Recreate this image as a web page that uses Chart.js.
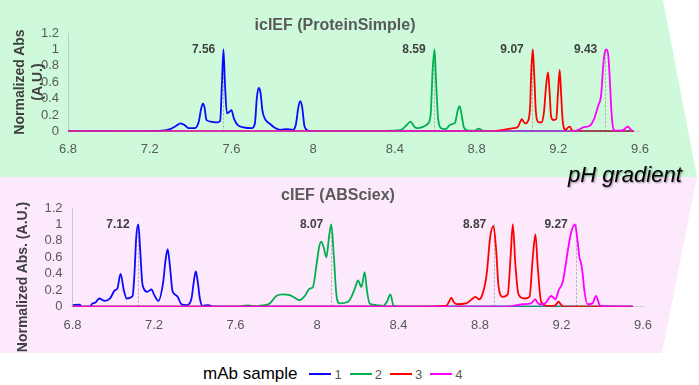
<!DOCTYPE html>
<html><head><meta charset="utf-8">
<script src="https://cdn.jsdelivr.net/npm/chart.js@4"></script>
<style>
body{margin:0;width:699px;height:385px;background:#fff;overflow:hidden;font-family:"Liberation Sans",Arial,sans-serif;position:relative}
.abs{position:absolute}
.title{position:absolute;transform:translate(-50%,-50%);white-space:nowrap;font-weight:bold;font-size:16px;color:#595959}
.ytitle{position:absolute;transform:translate(-50%,-50%) rotate(-90deg);white-space:nowrap;font-weight:bold;font-size:14px;color:#404040;text-align:center;line-height:18px}
.ph{position:absolute;left:568px;top:162px;font-size:22px;font-style:italic;color:#000;text-shadow:1px 1px 2px rgba(0,0,0,0.45);white-space:nowrap}
.legend{position:absolute;left:203px;top:364px;display:flex;align-items:center;white-space:nowrap}
.legend .lab{font-size:17px;color:#000;margin-right:12px}
.legend .sw{display:inline-block;width:22px;height:0;border-top:2px solid;margin-right:3px}
.legend .num{font-size:13px;color:#595959;margin-right:8px}
</style></head><body>
<svg class="abs" style="left:0;top:0" width="699" height="385">
<polygon points="0,0 663,0 697,177 0,177" fill="#cefadb"/>
<polygon points="0,177 697,177 662,353 0,353" fill="#fce9fc"/>
</svg>
<canvas id="topChart" class="abs" style="left:0;top:0" width="699" height="170"></canvas>
<canvas id="botChart" class="abs" style="left:0;top:180px" width="699" height="170"></canvas>
<div class="title" style="left:335px;top:25px">icIEF (ProteinSimple)</div>
<div class="title" style="left:338px;top:195px">cIEF (ABSciex)</div>
<div class="ytitle" style="left:28px;top:82px">Normalized Abs<br>(A.U.)</div>
<div class="ytitle" style="left:22px;top:277px">Normalized Abs. (A.U.)</div>
<div class="ph">pH gradient</div>
<div class="legend" id="legend"><span class="lab">mAb sample</span></div>
<script>
// ---- data ----
const sampleNames = ['1', '2', '3', '4'];
const sampleColors = ['#0a0aff', '#00b050', '#ff0000', '#ff00ff'];
const xTicks = [6.8, 7.2, 7.6, 8, 8.4, 8.8, 9.2, 9.6];
const yTicks = [0, 0.2, 0.4, 0.6, 0.8, 1, 1.2];

// icIEF (ProteinSimple)
const icPH1 = [6.8, 6.9, 7.0, 7.1, 7.2, 7.26, 7.3, 7.33, 7.35, 7.37, 7.39, 7.42, 7.44, 7.452, 7.46, 7.468, 7.478, 7.5, 7.53, 7.545, 7.553, 7.561, 7.568, 7.578, 7.59, 7.60, 7.612, 7.63, 7.66, 7.7, 7.715, 7.724, 7.733, 7.742, 7.752, 7.765, 7.785, 7.81, 7.84, 7.87, 7.9, 7.915, 7.928, 7.937, 7.946, 7.958, 7.975, 8.0, 8.2, 8.6, 9.0, 9.57];
const icAbs1 = [0, 0.005, 0.005, 0, 0.005, 0.01, 0.03, 0.07, 0.1, 0.08, 0.04, 0.04, 0.12, 0.28, 0.34, 0.3, 0.14, 0.12, 0.11, 0.13, 0.55, 1.0, 0.6, 0.22, 0.24, 0.26, 0.16, 0.08, 0.05, 0.04, 0.1, 0.4, 0.53, 0.48, 0.25, 0.15, 0.1, 0.05, 0.02, 0.03, 0.02, 0.08, 0.3, 0.37, 0.3, 0.06, 0.01, 0, 0.005, 0, 0, 0];
const icPH2 = [6.8, 8.0, 8.2, 8.3, 8.38, 8.43, 8.455, 8.476, 8.495, 8.51, 8.54, 8.56, 8.575, 8.585, 8.594, 8.602, 8.612, 8.627, 8.65, 8.665, 8.68, 8.695, 8.707, 8.717, 8.727, 8.738, 8.76, 8.79, 8.81, 8.83, 8.86, 9.0, 9.57];
const icAbs2 = [0, 0, 0.005, 0.005, 0.01, 0.02, 0.07, 0.12, 0.06, 0.04, 0.06, 0.09, 0.2, 0.75, 1.0, 0.6, 0.15, 0.04, 0.03, 0.07, 0.09, 0.11, 0.25, 0.31, 0.2, 0.05, 0.01, 0.01, 0.035, 0.01, 0, 0, 0];
const icPH3 = [6.8, 8.6, 8.86, 8.93, 8.98, 9.003, 9.014, 9.022, 9.03, 9.039, 9.052, 9.062, 9.068, 9.075, 9.082, 9.09, 9.1, 9.117, 9.13, 9.14, 9.15, 9.157, 9.165, 9.177, 9.19, 9.198, 9.207, 9.214, 9.222, 9.236, 9.248, 9.256, 9.266, 9.28, 9.4, 9.57];
const icAbs3 = [0, 0, 0, 0.02, 0.04, 0.06, 0.12, 0.15, 0.12, 0.1, 0.13, 0.3, 0.75, 1.0, 0.7, 0.25, 0.12, 0.11, 0.24, 0.55, 0.72, 0.5, 0.18, 0.14, 0.15, 0.45, 0.75, 0.45, 0.12, 0.02, 0.05, 0.06, 0.02, 0, 0, 0];
const icPH4 = [6.8, 9.0, 9.26, 9.3, 9.321, 9.354, 9.375, 9.395, 9.41, 9.42, 9.428, 9.436, 9.445, 9.453, 9.46, 9.468, 9.478, 9.5, 9.52, 9.532, 9.542, 9.552, 9.565];
const icAbs4 = [0, 0, 0, 0.02, 0.05, 0.07, 0.15, 0.31, 0.45, 0.8, 0.97, 1.0, 0.92, 0.6, 0.25, 0.05, 0.01, 0.01, 0.02, 0.05, 0.06, 0.03, 0];
const icPeaks = [7.56, 8.59, 9.07, 9.43];

// cIEF (ABSciex)
const cPH1 = [6.8, 6.837, 6.842, 6.888, 6.894, 6.912, 6.931, 6.959, 6.984, 7.008, 7.02, 7.036, 7.052, 7.066, 7.095, 7.104, 7.113, 7.123, 7.132, 7.142, 7.15, 7.167, 7.188, 7.2, 7.221, 7.245, 7.256, 7.267, 7.278, 7.29, 7.302, 7.316, 7.335, 7.36, 7.384, 7.395, 7.405, 7.415, 7.425, 7.438, 7.466, 7.49, 8.0, 9.0, 9.55];
const cAbs1 = [0.02, 0.025, 0, 0, 0.03, 0.05, 0.1, 0.07, 0.1, 0.2, 0.22, 0.4, 0.2, 0.1, 0.13, 0.4, 0.85, 1.0, 0.7, 0.3, 0.22, 0.18, 0.21, 0.15, 0.07, 0.3, 0.55, 0.7, 0.5, 0.2, 0.15, 0.12, 0.03, 0.02, 0.1, 0.3, 0.43, 0.3, 0.1, 0.01, 0.02, 0, 0, 0, 0];
const cPH2 = [6.8, 7.6, 7.66, 7.7, 7.734, 7.768, 7.8, 7.833, 7.866, 7.89, 7.915, 7.94, 7.964, 7.98, 7.997, 8.01, 8.021, 8.033, 8.046, 8.059, 8.07, 8.083, 8.095, 8.111, 8.152, 8.169, 8.19, 8.201, 8.218, 8.234, 8.245, 8.258, 8.291, 8.324, 8.343, 8.36, 8.376, 8.4, 9.0, 9.55];
const cAbs2 = [0, 0, 0.015, 0.005, 0.015, 0.04, 0.13, 0.15, 0.14, 0.11, 0.08, 0.13, 0.22, 0.24, 0.5, 0.72, 0.79, 0.72, 0.6, 0.85, 1.0, 0.6, 0.15, 0.04, 0.06, 0.12, 0.25, 0.32, 0.24, 0.42, 0.2, 0.04, 0.02, 0.01, 0.06, 0.15, 0.01, 0, 0, 0];
const cPH3 = [6.8, 8.5, 8.634, 8.648, 8.659, 8.67, 8.685, 8.732, 8.755, 8.778, 8.795, 8.812, 8.833, 8.85, 8.866, 8.879, 8.891, 8.912, 8.936, 8.95, 8.961, 8.974, 8.989, 9.018, 9.043, 9.059, 9.072, 9.083, 9.1, 9.132, 9.165, 9.178, 9.186, 9.196, 9.21, 9.3, 9.55];
const cAbs3 = [0, 0, 0.01, 0.06, 0.11, 0.06, 0.03, 0.04, 0.08, 0.12, 0.09, 0.15, 0.4, 0.85, 0.98, 0.7, 0.25, 0.12, 0.15, 0.6, 1.0, 0.5, 0.15, 0.1, 0.12, 0.6, 0.88, 0.5, 0.06, 0.01, 0.01, 0.04, 0.06, 0.03, 0, 0, 0];
const cPH4 = [6.8, 8.9, 8.93, 9.01, 9.05, 9.062, 9.072, 9.082, 9.095, 9.124, 9.14, 9.149, 9.16, 9.17, 9.186, 9.206, 9.22, 9.232, 9.247, 9.266, 9.279, 9.288, 9.296, 9.304, 9.312, 9.328, 9.353, 9.362, 9.37, 9.378, 9.39, 9.45, 9.55];
const cAbs4 = [0, 0, 0, 0.03, 0.04, 0.07, 0.09, 0.05, 0.03, 0.05, 0.11, 0.13, 0.11, 0.09, 0.2, 0.3, 0.5, 0.7, 0.9, 1.0, 0.8, 0.6, 0.53, 0.4, 0.2, 0.03, 0.04, 0.1, 0.13, 0.08, 0.01, 0.005, 0];
const cPeaks = [7.12, 8.07, 8.87, 9.27];

// ---- rendering ----
const FONT = '"Liberation Sans", Arial, sans-serif';
const fmt = v => String(parseFloat(Number(v).toFixed(2)));

const peakPlugin = {
  id: 'peaks',
  beforeDatasetsDraw(chart, args, opts) {
    const {ctx, scales: {x, y}} = chart;
    ctx.save();
    ctx.strokeStyle = '#a6a6a6'; ctx.lineWidth = 1; ctx.setLineDash([2, 2]);
    opts.values.forEach(p => {
      const px = Math.round(x.getPixelForValue(p)) + 0.5;
      ctx.beginPath(); ctx.moveTo(px, y.getPixelForValue(1)); ctx.lineTo(px, y.getPixelForValue(0)); ctx.stroke();
    });
    ctx.restore();
  },
  afterDatasetsDraw(chart, args, opts) {
    const {ctx, scales: {x, y}} = chart;
    ctx.save();
    ctx.font = 'bold 12px ' + FONT; ctx.fillStyle = '#404040';
    ctx.textAlign = 'right'; ctx.textBaseline = 'middle';
    opts.values.forEach(p => ctx.fillText(p.toFixed(2), x.getPixelForValue(p) - 8, y.getPixelForValue(1)));
    ctx.restore();
  }
};

function makeChart(id, phs, abss, peaks, pad, xPad, yPad) {
  const datasets = phs.map((ph, i) => ({
    label: sampleNames[i],
    data: ph.map((v, j) => ({x: v, y: abss[i][j]})),
    borderColor: sampleColors[i], borderWidth: 1.8, pointRadius: 0,
    cubicInterpolationMode: 'monotone', fill: false,
    order: phs.length - 1 - i
  }));
  return new Chart(document.getElementById(id), {
    type: 'line',
    data: {datasets},
    plugins: [peakPlugin],
    options: {
      responsive: false, animation: false, devicePixelRatio: 1,
      layout: {padding: pad},
      plugins: {legend: {display: false}, tooltip: {enabled: false}, peaks: {values: peaks}},
      scales: {
        x: {type: 'linear', min: xTicks[0], max: xTicks[xTicks.length - 1],
            afterBuildTicks: s => { s.ticks = xTicks.map(v => ({value: v})); },
            afterFit: s => { s.height = 28; },
            grid: {display: false, drawTicks: false},
            border: {display: true, color: '#d0d0d0'},
            ticks: {padding: xPad, color: '#595959', font: {family: FONT, size: 13}, callback: v => fmt(v), maxRotation: 0, autoSkip: false}},
        y: {min: yTicks[0], max: yTicks[yTicks.length - 1],
            afterBuildTicks: s => { s.ticks = yTicks.map(v => ({value: v})); },
            afterFit: s => { s.width = 30; },
            grid: {display: false, drawTicks: false},
            border: {display: true, color: '#c8c8c8'},
            ticks: {padding: yPad, color: '#595959', font: {family: FONT, size: 13}, callback: v => fmt(v), autoSkip: false}}
      }
    }
  });
}

makeChart('topChart', [icPH1, icPH2, icPH3, icPH4], [icAbs1, icAbs2, icAbs3, icAbs4], icPeaks,
  {left: 38, right: 59, top: 33, bottom: 10.5}, 10, 9);
makeChart('botChart', [cPH1, cPH2, cPH3, cPH4], [cAbs1, cAbs2, cAbs3, cAbs4], cPeaks,
  {left: 42.5, right: 56, top: 28, bottom: 15.3}, 11, 10);

const lg = document.getElementById('legend');
sampleNames.forEach((n, i) => {
  const sw = document.createElement('span'); sw.className = 'sw'; sw.style.borderTopColor = sampleColors[i];
  const t = document.createElement('span'); t.className = 'num'; t.textContent = n;
  lg.appendChild(sw); lg.appendChild(t);
});
</script>
</body></html>
